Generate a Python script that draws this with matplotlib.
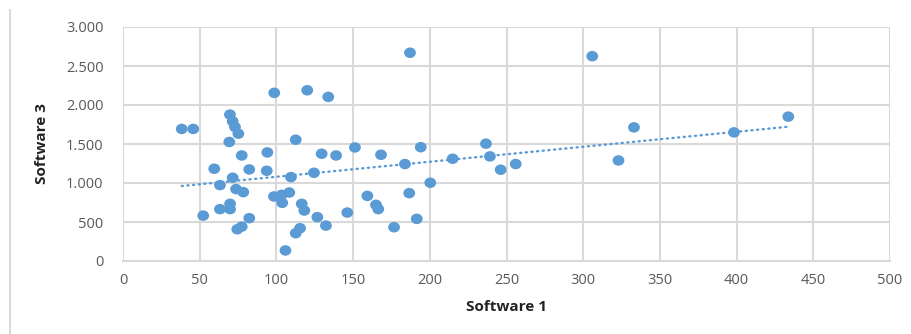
import numpy as np
import matplotlib
matplotlib.use("Agg")
import matplotlib.pyplot as plt
from matplotlib.ticker import FuncFormatter
from matplotlib.lines import Line2D
from matplotlib.path import Path
from matplotlib.transforms import Affine2D

# Paired measurements: Software 1 (x) against Software 3 (y)
software_1 = [
    38.3, 45.8, 69.7, 71.5, 73.0, 75.2, 69.3, 77.4, 94.1, 59.5,
    82.3, 93.7, 63.2, 71.5, 73.7, 78.4, 98.4, 103.4, 108.4, 103.8,
    69.8, 63.2, 69.8, 52.3, 82.3, 77.4, 74.5, 105.9, 98.6, 120.1,
    133.8, 112.6, 129.5, 138.9, 151.2, 168.2, 183.8, 194.1, 109.5, 124.5,
    200.3, 116.5, 118.2, 126.7, 132.3, 115.4, 112.6, 146.2, 159.3, 164.9,
    166.4, 186.6, 191.5, 176.7, 214.9, 236.6, 239.2, 246.2, 256.0, 323.0,
    187.1, 305.9, 333.1, 398.3, 433.7,
]
software_3 = [
    1693, 1693, 1877, 1790, 1718, 1632, 1526, 1353, 1392, 1183,
    1174, 1157, 973, 1067, 922, 883, 827, 848, 878, 746,
    733, 665, 665, 582, 549, 441, 407, 135, 2156, 2189,
    2104, 1555, 1375, 1353, 1456, 1362, 1243, 1459, 1076, 1131,
    1003, 733, 647, 562, 454, 420, 356, 621, 835, 720,
    665, 870, 540, 433, 1311, 1504, 1341, 1170, 1243, 1289,
    2670, 2626, 1713, 1649, 1851,
]

x_ticks = [0, 50, 100, 150, 200, 250, 300, 350, 400, 450, 500]
y_ticks = [0, 500, 1000, 1500, 2000, 2500, 3000]

blue = "#5b9bd5"
grid_grey = "#d9d9d9"
text_grey = "#595959"
font = "Open Sans"

# slightly wide elliptical marker
oval = Path.unit_circle().transformed(Affine2D().scale(1.12, 1.0))

fig = plt.figure(figsize=(9.11, 3.34), dpi=100)
ax = fig.add_axes([123 / 911, 1 - 261 / 334, (890 - 123) / 911, (261 - 27) / 334])

x = np.array(software_1)
y = np.array(software_3)
ax.scatter(x, y, s=72, marker=oval, color=blue, edgecolors="none", zorder=3)

# Linear trend line over the data range
slope, intercept = np.polyfit(x, y, 1)
xt = np.array([x.min(), x.max()])
ax.plot(xt, slope * xt + intercept, color=blue, lw=1.7,
        linestyle=(0, (0.5, 1.9)), dash_capstyle="round", zorder=2)

ax.set_xlim(0, 500)
ax.set_ylim(0, 3000)
ax.set_xticks(x_ticks)
ax.set_yticks(y_ticks)
ax.yaxis.set_major_formatter(FuncFormatter(lambda v, p: f"{int(v):,}".replace(",", ".")))
ax.grid(True, color=grid_grey, lw=1.5, zorder=0)
ax.set_axisbelow(True)
for side in ["top", "right", "left"]:
    ax.spines[side].set_visible(False)
ax.spines["bottom"].set_color(grid_grey)
ax.spines["bottom"].set_linewidth(1.5)
ax.tick_params(length=0, colors=text_grey, labelsize=10.5, pad=9)
for lab in ax.get_xticklabels() + ax.get_yticklabels():
    lab.set_fontfamily(font)
ax.tick_params(axis="y", pad=14)

ax.set_xlabel("Software 1", fontsize=11, fontweight="bold", family=font, color="#222222", labelpad=8)
ax.set_ylabel("Software 3", fontsize=11, fontweight="bold", family=font, color="#222222", labelpad=12)

# chart-area border on the left
fig.add_artist(Line2D([10 / 911, 10 / 911], [0, 1 - 10 / 334], transform=fig.transFigure,
                      color=grid_grey, lw=1.4))

fig.savefig("out.png", dpi=100)
